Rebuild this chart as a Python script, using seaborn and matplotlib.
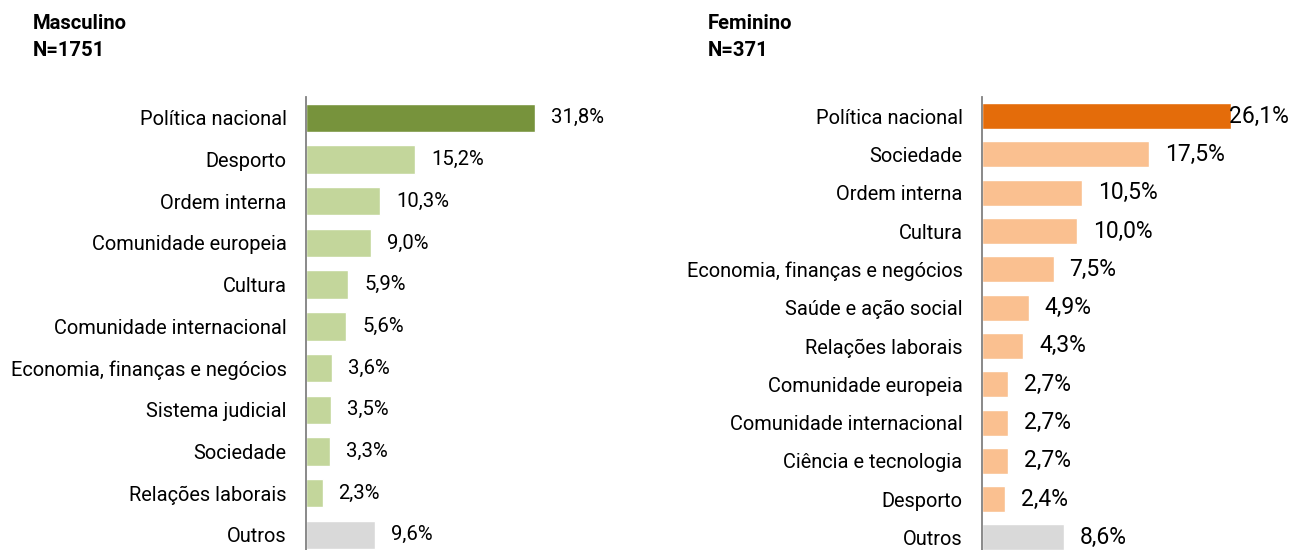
import matplotlib
matplotlib.use("Agg")
import matplotlib.pyplot as plt
import seaborn as sns
import pandas as pd

# data
masc_cats = ["Política nacional", "Desporto", "Ordem interna", "Comunidade europeia",
             "Cultura", "Comunidade internacional", "Economia, finanças e negócios",
             "Sistema judicial", "Sociedade", "Relações laborais", "Outros"]
masc_vals = [31.8, 15.2, 10.3, 9.0, 5.9, 5.6, 3.6, 3.5, 3.3, 2.3, 9.6]

fem_cats = ["Política nacional", "Sociedade", "Ordem interna", "Cultura",
            "Economia, finanças e negócios", "Saúde e ação social", "Relações laborais",
            "Comunidade europeia", "Comunidade internacional", "Ciência e tecnologia",
            "Desporto", "Outros"]
fem_vals = [26.1, 17.5, 10.5, 10.0, 7.5, 4.9, 4.3, 2.7, 2.7, 2.7, 2.4, 8.6]

masc_title = "Masculino\nN=1751"
fem_title = "Feminino\nN=371"

# colours: highlight first bar, grey for "Outros"
GREEN_DARK, GREEN_LIGHT = "#77933C", "#C3D69B"
ORANGE_DARK, ORANGE_LIGHT = "#E46C0A", "#FAC090"
GREY = "#D9D9D9"

sns.set_theme(style="white")
plt.rcParams["font.family"] = ["Roboto", "DejaVu Sans"]

W, H = 1292, 550
fig = plt.figure(figsize=(W / 100, H / 100), dpi=100)


def panel(left_px, top_px, step_px, px_per_unit, xmax, cats, vals, dark, light,
          title, title_x, value_size):
    n = len(cats)
    height_px = step_px * n
    width_px = px_per_unit * xmax
    ax = fig.add_axes([left_px / W, 1 - (top_px + height_px) / H, width_px / W, height_px / H])
    df = pd.DataFrame({"cat": cats, "val": vals})
    colors = [dark] + [light] * (n - 2) + [GREY]
    sns.barplot(data=df, x="val", y="cat", hue="cat", palette=colors, legend=False,
                orient="h", width=0.68, ax=ax, saturation=1)
    ax.set_xlim(0, xmax)
    ax.set_ylim(n - 0.5, -0.5)
    ax.set_xlabel("")
    ax.set_ylabel("")
    ax.set_xticks([])
    for s in ["top", "right", "bottom"]:
        ax.spines[s].set_visible(False)
    ax.spines["left"].set_color("#808080")
    ax.spines["left"].set_linewidth(1.3)
    ax.tick_params(axis="y", length=0, pad=14, labelsize=14.4, labelcolor="black")
    # value labels right of each bar; pulled back onto the bar if it would leave the figure
    for i, v in enumerate(vals):
        label = f"{v:.1f}%".replace(".", ",")
        x = v + 16 / px_per_unit
        if x + 55 / px_per_unit > xmax:
            x = v - 2 / px_per_unit
        ax.text(x, i, label, va="center", ha="left", fontsize=value_size, color="black")
    fig.text(title_x / W, 1 - 14 / H, title, ha="left", va="top", fontsize=14.6,
             fontweight="bold", linespacing=1.55, color="black")
    return ax


panel(306, 97, 41.7, 7.2, 45, masc_cats, masc_vals, GREEN_DARK, GREEN_LIGHT,
      masc_title, 33, 14.6)
panel(982, 97, 38.3, 9.54, 27.5, fem_cats, fem_vals, ORANGE_DARK, ORANGE_LIGHT,
      fem_title, 708, 16.5)

fig.savefig("out.png", dpi=100)
